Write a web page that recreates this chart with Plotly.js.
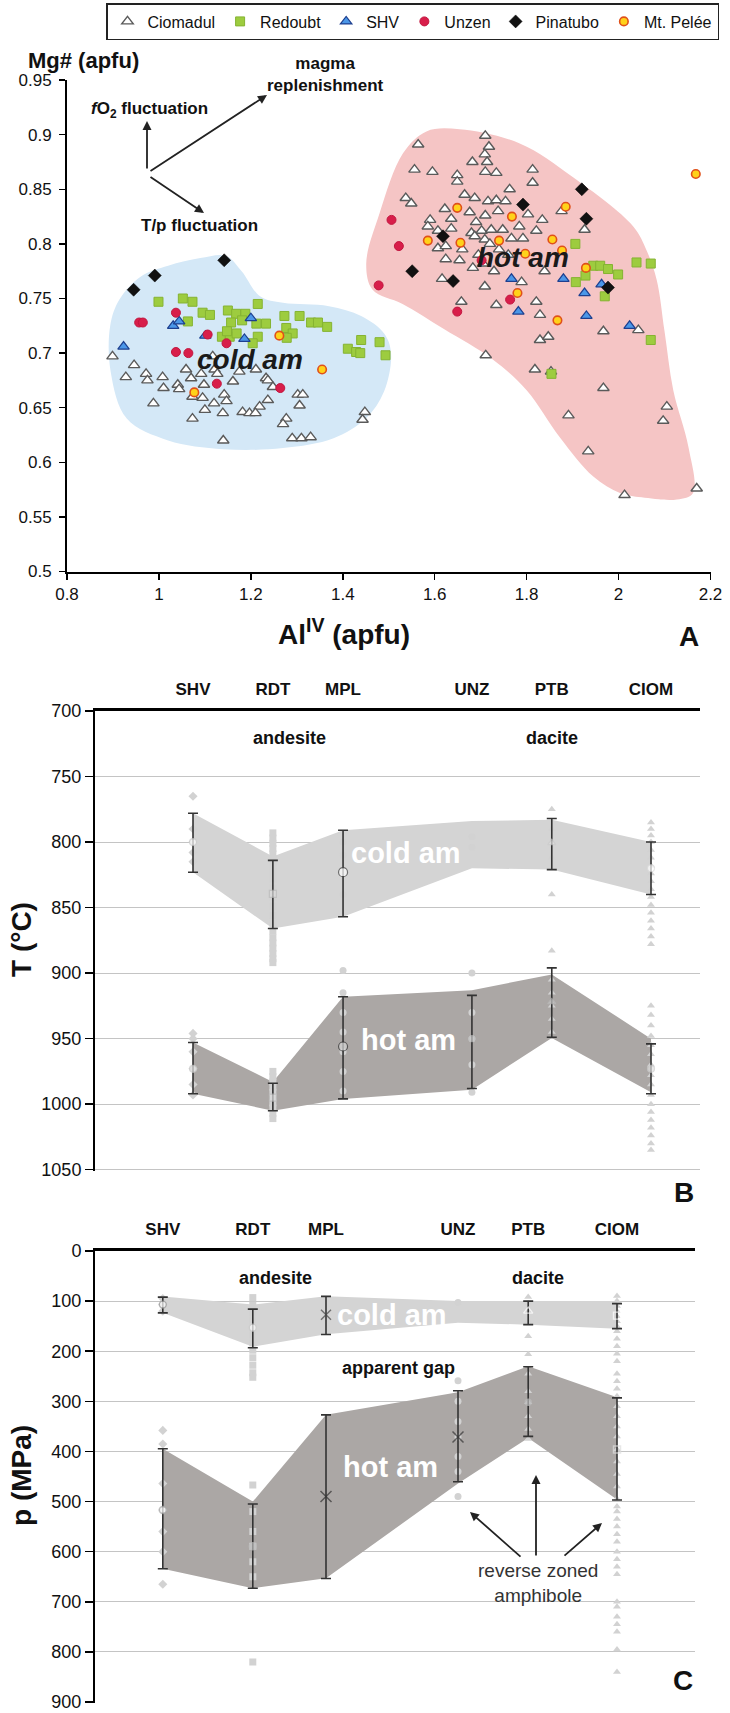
<!DOCTYPE html>
<html><head><meta charset="utf-8">
<script src="https://cdn.plot.ly/plotly-3.0.1.min.js"></script>
<style>html,body{margin:0;padding:0;background:#fff;}#chart{width:730px;height:1713px;}</style>
</head><body><div id="chart"></div>
<script>
// ================= Panel A data (AlIV vs Mg#) =================
const ciomAl = [0.899,0.946,0.928,0.972,1.008,0.975,1.010,0.988,1.041,1.044,1.059,1.070,1.092,1.098,1.117,1.121,1.127,1.161,1.175,1.211,1.233,1.237,1.248,1.073,1.095,1.120,1.142,1.147,1.073,1.139,1.182,1.197,1.219,1.237,1.277,1.302,1.313,1.306,1.448,1.443,1.140,1.270,1.290,1.310,1.330,1.210,1.100,
 1.564,1.710,1.718,1.709,1.682,1.714,1.556,1.595,1.649,1.710,1.734,1.813,1.649,1.813,1.763,1.537,1.549,1.665,1.687,1.716,1.734,1.754,1.622,1.676,1.738,1.803,1.834,1.876,1.590,1.636,1.585,1.607,1.636,1.680,1.702,1.723,1.748,1.784,1.821,1.926,1.607,1.624,1.687,1.709,1.767,1.792,1.624,1.654,1.683,1.705,1.729,1.839,1.616,1.709,1.789,1.658,1.734,1.821,1.829,1.829,1.847,1.967,2.043,1.711,1.818,1.853,1.967,1.891,1.934,2.013,2.105,2.097,2.170,1.660,1.695,1.740,1.760,1.720,1.690,1.710];
const ciomMg = [0.697,0.689,0.678,0.681,0.678,0.675,0.668,0.654,0.671,0.667,0.685,0.677,0.681,0.671,0.697,0.685,0.681,0.674,0.683,0.685,0.677,0.675,0.669,0.660,0.659,0.654,0.662,0.656,0.640,0.645,0.646,0.645,0.651,0.657,0.640,0.662,0.662,0.652,0.646,0.639,0.620,0.635,0.622,0.622,0.623,0.645,0.648,
 0.891,0.899,0.889,0.882,0.875,0.875,0.868,0.866,0.863,0.866,0.865,0.868,0.857,0.856,0.850,0.842,0.837,0.845,0.842,0.839,0.840,0.839,0.832,0.829,0.830,0.827,0.822,0.830,0.822,0.823,0.816,0.812,0.814,0.810,0.812,0.813,0.813,0.816,0.812,0.813,0.796,0.798,0.807,0.804,0.805,0.805,0.786,0.785,0.778,0.782,0.775,0.775,0.768,0.761,0.765,0.747,0.744,0.747,0.735,0.712,0.715,0.720,0.721,0.698,0.685,0.683,0.668,0.643,0.610,0.570,0.651,0.638,0.576,0.795,0.790,0.795,0.790,0.800,0.820,0.826];
const redAl = [0.999,1.052,1.073,1.063,1.095,1.111,1.150,1.168,1.188,1.215,1.157,1.212,1.233,1.137,1.154,1.169,1.215,1.204,1.273,1.306,1.277,1.291,1.278,1.331,1.346,1.366,1.411,1.429,1.438,1.440,1.480,1.493,1.181,1.148,1.906,1.945,1.960,1.977,1.999,1.928,1.907,2.039,2.070,1.970,2.070,1.854];
const redMg = [0.747,0.750,0.747,0.729,0.737,0.735,0.739,0.736,0.736,0.745,0.728,0.727,0.727,0.715,0.715,0.718,0.715,0.709,0.734,0.734,0.723,0.718,0.714,0.728,0.728,0.724,0.704,0.701,0.700,0.712,0.710,0.698,0.730,0.720,0.800,0.780,0.780,0.777,0.772,0.771,0.765,0.783,0.782,0.752,0.712,0.681];
const shvAl = [0.923,1.031,1.044,1.101,1.186,1.200,1.767,1.880,1.926,1.963,1.782,1.930,2.024];
const shvMg = [0.706,0.725,0.729,0.716,0.713,0.732,0.768,0.768,0.755,0.763,0.738,0.734,0.725];
const unzAl = [0.957,0.965,1.037,1.037,1.064,1.106,1.147,1.126,1.264,1.506,1.522,1.478,1.649,1.764,1.702];
const unzMg = [0.728,0.728,0.737,0.701,0.700,0.717,0.709,0.672,0.668,0.822,0.798,0.762,0.738,0.749,0.785];
const pinAl = [0.945,0.991,1.142,1.920,1.792,1.930,1.618,1.551,1.640,1.977];
const pinMg = [0.758,0.771,0.785,0.850,0.836,0.823,0.807,0.775,0.766,0.760];
const pelAl = [1.262,1.355,1.077,1.649,1.768,1.885,1.585,1.656,1.740,1.856,1.877,1.797,1.929,1.780,1.867,2.168];
const pelMg = [0.716,0.685,0.664,0.833,0.825,0.834,0.803,0.801,0.803,0.804,0.794,0.791,0.778,0.755,0.730,0.864];
// field outlines (cold am / hot am)
const coldFieldAl = [0.894,0.914,0.96,1.02,1.09,1.146,1.18,1.22,1.27,1.37,1.44,1.49,1.505,1.49,1.45,1.38,1.27,1.14,1.02,0.93,0.895,0.894];
const coldFieldMg = [0.725,0.749,0.77,0.78,0.787,0.789,0.775,0.752,0.746,0.743,0.734,0.718,0.70,0.665,0.64,0.622,0.613,0.612,0.62,0.64,0.683,0.725];
const hotFieldAl = [1.451,1.48,1.531,1.582,1.654,1.785,1.901,2.032,2.061,2.083,2.10,2.119,2.152,2.162,2.127,2.05,2.003,1.945,1.872,1.8,1.727,1.62,1.53,1.465,1.451];
const hotFieldMg = [0.782,0.828,0.883,0.903,0.905,0.892,0.861,0.816,0.794,0.767,0.72,0.666,0.614,0.572,0.566,0.568,0.572,0.587,0.623,0.666,0.694,0.722,0.745,0.758,0.782];
const aTickVals = [0.5,0.55,0.6,0.65,0.7,0.75,0.8,0.85,0.9,0.95];
const aTickText = ['0.5','0.55','0.6','0.65','0.7','0.75','0.8','0.85','0.9','0.95'];
const aXTickVals = [0.8,1,1.2,1.4,1.6,1.8,2,2.2];
const aXTickText = ['0.8','1','1.2','1.4','1.6','1.8','2','2.2'];

// ================= Panels B & C data =================
const cats = ['SHV','RDT','MPL','UNZ','PTB','CIOM'];
const catPosB = [16.2, 29.4, 41.0, 62.3, 75.5, 91.9];
const catPosC = [11.3, 26.3, 38.5, 60.5, 72.2, 87.0];
// B: temperature (°C)
const coldMeanB = [800, 839.5, 823, null, 800.6, 820];
const coldLoB   = [778, 814, 791, null, 782, 800];
const coldHiB   = [823, 866, 857, null, 821, 840];
const coldTopB  = [778, 811, 791, 784, 783, 800];
const coldBotB  = [823, 866, 857, 820, 821, 840];
const hotMeanB  = [973, 995, 956, 950, 922, 973];
const hotLoB    = [953, 984, 918, 917, 896, 954];
const hotHiB    = [992, 1005, 996, 988, 949, 992];
const hotTopB   = [953, 983, 918, 913, 901, 950];
const hotBotB   = [992, 1005, 996, 989, 949.5, 991];
const grayB_SHV  = [765, 790, 800, 808, 815, 946, 950, 960, 973, 985, 993];
const grayB_RDT  = [793, 797, 801, 805, 809, 813, 818, 823, 828, 835, 842, 849, 856, 862, 868, 873, 877, 881, 885, 889, 892, 975, 979, 983, 987, 991, 995, 999, 1003, 1007, 1011];
const grayB_MPL  = [800, 810, 823, 840, 898, 915, 930, 945, 960, 975, 990];
const grayB_UNZ  = [796, 804, 900, 930, 950, 970, 991];
const grayB_PTB  = [775, 790, 800, 812, 840, 883, 905, 915, 925, 935, 945];
const grayB_CIOM = [785, 790, 795, 800, 806, 812, 818, 824, 830, 836, 842, 848, 854, 860, 866, 872, 878, 925, 932, 940, 948, 955, 962, 970, 978, 985, 993, 1000, 1006, 1012, 1018, 1024, 1030, 1035];
const bTickVals = [700, 750, 800, 850, 900, 950, 1000, 1050];
// C: pressure (MPa)
const coldMeanC = [107, 153, 127, null, 120, 129];
const coldLoC   = [92, 116, 90.5, null, 100, 105];
const coldHiC   = [123.5, 193, 166.5, null, 147, 155];
const coldTopC  = [91, 107, 90.5, 100, 100, 100];
const coldBotC  = [123, 191, 166, 143, 147, 155];
const hotMeanC  = [517, 589, 490, 371, 302, 396];
const hotLoC    = [394.5, 505, 327, 279, 231, 293];
const hotHiC    = [634, 673, 653.5, 460.5, 370, 497];
const hotTopC   = [394.5, 500, 327, 282, 230, 292];
const hotBotC   = [634, 673, 653, 464, 373, 496];
const grayC_SHV  = [95, 107, 120, 358, 385, 464, 517, 560, 600, 665];
const grayC_RDT  = [93, 108, 123, 138, 153, 168, 183, 198, 213, 228, 243, 252, 467, 520, 560, 589, 620, 650, 820];
const grayC_MPL  = [95, 110, 127, 145, 160, 307, 360, 400, 420, 440, 490, 520, 560, 600, 640];
const grayC_UNZ  = [103, 259, 300, 340, 371, 410, 440, 490];
const grayC_PTB  = [92, 105, 120, 140, 170, 206, 245, 280, 302, 330, 355, 375];
const grayC_CIOM = [90, 100, 110, 120, 130, 140, 150, 160, 175, 190, 205, 220, 245, 260, 275, 290, 310, 330, 350, 370, 396, 420, 445, 470, 495, 510, 520, 535, 550, 565, 580, 600, 615, 630, 645, 700, 710, 730, 745, 760, 795, 840];
const cTickVals = [0, 100, 200, 300, 400, 500, 600, 700, 800, 900];

// ================= helpers =================
const W = 730, H = 1713;
const F = 'Liberation Sans, Arial, Helvetica, sans-serif';
const px = x => x / W, py = y => 1 - y / H;
const rev = a => a.slice().reverse();

const traces = [];
// ---- Panel A ----
traces.push({x: coldFieldAl, y: coldFieldMg, mode: 'lines', fill: 'toself', fillcolor: '#d4e8f7',
  line: {width: 0, shape: 'spline', smoothing: 1}, hoverinfo: 'skip', showlegend: false, xaxis: 'x', yaxis: 'y'});
traces.push({x: hotFieldAl, y: hotFieldMg, mode: 'lines', fill: 'toself', fillcolor: '#f5c5c5',
  line: {width: 0, shape: 'spline', smoothing: 1}, hoverinfo: 'skip', showlegend: false, xaxis: 'x', yaxis: 'y'});
const series = [
  {name: 'Ciomadul', x: ciomAl, y: ciomMg, marker: {symbol: 'triangle-up', size: 10, color: '#ffffff', line: {color: '#5a5a5a', width: 1.4}}},
  {name: 'Redoubt', x: redAl, y: redMg, marker: {symbol: 'square', size: 9, color: '#9dcc3f', line: {color: '#85b332', width: 1}}},
  {name: 'SHV', x: shvAl, y: shvMg, marker: {symbol: 'triangle-up', size: 10, color: '#4b97e8', line: {color: '#1d3f8f', width: 1.2}}},
  {name: 'Unzen', x: unzAl, y: unzMg, marker: {symbol: 'circle', size: 9, color: '#d81e4a', line: {color: '#c2163f', width: 1}}},
  {name: 'Pinatubo', x: pinAl, y: pinMg, marker: {symbol: 'diamond', size: 10, color: '#111111', line: {color: '#000', width: 0.5}}},
  {name: 'Mt. Pelée', x: pelAl, y: pelMg, marker: {symbol: 'circle', size: 8.5, color: '#ffd21a', line: {color: '#e0501a', width: 1.6}}}
];
series.forEach(s => traces.push(Object.assign({type: 'scatter', mode: 'markers', xaxis: 'x', yaxis: 'y', hoverinfo: 'skip', cliponaxis: false}, s)));

// ---- Panels B & C ----
function bandPanel(pos, xa, ya, grays, graySym, coldTop, coldBot, hotTop, hotBot, coldMean, coldLo, coldHi, hotMean, hotLo, hotHi, coldMk, hotMk) {
  traces.push({x: pos.concat(rev(pos)), y: coldTop.concat(rev(coldBot)), mode: 'lines', fill: 'toself', fillcolor: '#d4d4d4',
    line: {width: 0}, hoverinfo: 'skip', showlegend: false, xaxis: xa, yaxis: ya});
  traces.push({x: pos.concat(rev(pos)), y: hotTop.concat(rev(hotBot)), mode: 'lines', fill: 'toself', fillcolor: '#aba7a5',
    line: {width: 0}, hoverinfo: 'skip', showlegend: false, xaxis: xa, yaxis: ya});
  grays.forEach((g, i) => {
    traces.push({x: g.map(() => pos[i]), y: g, mode: 'markers', xaxis: xa, yaxis: ya, showlegend: false, hoverinfo: 'skip',
      marker: {symbol: graySym[i], size: 7, color: '#d2d2d2', line: {width: 0}}});
  });
  const mk = (mean, lo, hi, m) => ({x: pos, y: mean, mode: 'markers', xaxis: xa, yaxis: ya, showlegend: false, hoverinfo: 'skip',
    error_y: {type: 'data', symmetric: false,
      array: mean.map((v, i) => v == null ? null : hi[i] - v),
      arrayminus: mean.map((v, i) => v == null ? null : v - lo[i]),
      color: '#333333', thickness: 1.6, width: 5},
    marker: m});
  traces.push(mk(coldMean, coldLo, coldHi, coldMk));
  traces.push(mk(hotMean, hotLo, hotHi, hotMk));
}
bandPanel(catPosB, 'x2', 'y2', [grayB_SHV, grayB_RDT, grayB_MPL, grayB_UNZ, grayB_PTB, grayB_CIOM],
  ['diamond', 'square', 'circle', 'circle', 'triangle-up', 'triangle-up'],
  coldTopB, coldBotB, hotTopB, hotBotB, coldMeanB, coldLoB, coldHiB, hotMeanB, hotLoB, hotHiB,
  {symbol: ['circle', 'square', 'circle', 'circle', 'triangle-up', 'circle'], size: [7, 7, 9, 6, 7, 7],
   color: ['#ffffff', '#dcdcdc', '#ffffff', '#dddddd', '#e2e2e2', '#ffffff'],
   line: {color: ['#cccccc', '#bbbbbb', '#444444', '#cccccc', '#cccccc', '#dddddd'], width: 1.2}},
  {symbol: ['circle', 'square', 'circle', 'circle', 'triangle-up', 'circle'], size: [7, 7, 9, 6, 7, 7],
   color: ['#e6e6e6', '#dcdcdc', '#d8d8d8', '#c8c8c8', '#c8c8c8', '#e0e0e0'],
   line: {color: ['#cccccc', '#bbbbbb', '#333333', '#bbbbbb', '#bbbbbb', '#cccccc'], width: 1.2}});
bandPanel(catPosC, 'x3', 'y3', [grayC_SHV, grayC_RDT, grayC_MPL, grayC_UNZ, grayC_PTB, grayC_CIOM],
  ['diamond', 'square', 'line-ew', 'circle', 'triangle-up', 'triangle-up'],
  coldTopC, coldBotC, hotTopC, hotBotC, coldMeanC, coldLoC, coldHiC, hotMeanC, hotLoC, hotHiC,
  {symbol: ['circle', 'circle', 'x-thin-open', 'circle', 'triangle-up-open', 'square-open'], size: [7, 7, 10, 6, 8, 7],
   color: ['#ffffff', '#ffffff', '#444444', '#dddddd', '#ffffff', '#ffffff'],
   line: {color: ['#999999', '#cccccc', '#444444', '#cccccc', '#bbbbbb', '#bbbbbb'], width: 1.4}},
  {symbol: ['circle', 'circle', 'x-thin-open', 'x-thin-open', 'circle', 'square-open'], size: [7, 7, 11, 11, 6, 7],
   color: ['#ffffff', '#bbbbbb', '#333333', '#333333', '#bbbbbb', '#dddddd'],
   line: {color: ['#aaaaaa', '#bbbbbb', '#333333', '#333333', '#bbbbbb', '#cccccc'], width: 1.5}});

// ================= annotations =================
function T(text, x, y, size, o) {
  return Object.assign({xref: 'paper', yref: 'paper', x: px(x), y: py(y), text: text, showarrow: false,
    xanchor: 'center', yanchor: 'middle', font: {family: F, size: size, color: '#111111'}}, o || {});
}
function AR(hx, hy, tx, ty) {
  return {xref: 'paper', yref: 'paper', x: px(hx), y: py(hy), ax: tx - hx, ay: ty - hy, axref: 'pixel', ayref: 'pixel',
    text: '', showarrow: true, arrowhead: 2, arrowsize: 1, arrowwidth: 1.8, arrowcolor: '#222222'};
}
const annotations = [
  // Panel A
  T('<b>Mg# (apfu)</b>', 26, 60, 22, {xanchor: 'left'}),
  T('<b>magma<br>replenishment</b>', 325, 74, 17),
  T('<b><i>f</i>O<sub>2</sub> fluctuation</b>', 149, 110, 17),
  T('<b>T/p fluctuation</b>', 199, 225, 17),
  AR(147, 121, 147, 170), AR(267, 95, 149, 172), AR(204, 213, 149, 176),
  T('<b><i>cold am</i></b>', 250, 360, 28, {font: {family: F, size: 28, color: '#1a1a1a'}}),
  T('<b><i>hot am</i></b>', 523, 257, 28, {font: {family: F, size: 28, color: '#1a1a1a'}}),
  T('<b>Al<sup>IV</sup> (apfu)</b>', 344, 632, 28),
  T('<b>A</b>', 689, 636, 28),
  // Panel B
  T('<b>andesite</b>', 289, 738, 18),
  T('<b>dacite</b>', 552, 738, 18),
  T('<b>cold am</b>', 406, 853, 29, {font: {family: F, size: 29, color: '#ffffff'}}),
  T('<b>hot am</b>', 408, 1040, 29, {font: {family: F, size: 29, color: '#ffffff'}}),
  T('<b>T (°C)</b>', 21, 940, 28, {textangle: -90}),
  T('<b>B</b>', 684, 1192, 28),
  // Panel C
  T('<b>andesite</b>', 275, 1278, 18),
  T('<b>dacite</b>', 538, 1278, 18),
  T('<b>apparent gap</b>', 398, 1368, 18),
  T('<b>cold am</b>', 392, 1315, 29, {font: {family: F, size: 29, color: '#ffffff'}}),
  T('<b>hot am</b>', 390, 1467, 29, {font: {family: F, size: 29, color: '#ffffff'}}),
  T('reverse zoned<br>amphibole', 538, 1583, 19, {font: {family: F, size: 19, color: '#333333'}}),
  AR(470, 1512, 522, 1558), AR(536, 1475, 536, 1557), AR(602, 1523, 563, 1557),
  T('<b>p (MPa)</b>', 21, 1476, 28, {textangle: -90}),
  T('<b>C</b>', 683, 1680, 28)
];

const axBase = {showline: true, linecolor: '#000', zeroline: false, showgrid: false, ticks: 'outside', tickcolor: '#000', tickwidth: 1.5, ticklabeloverflow: 'allow'};
const layout = {
  width: W, height: H, margin: {l: 0, r: 0, t: 0, b: 0}, paper_bgcolor: '#fff', plot_bgcolor: 'rgba(0,0,0,0)',
  font: {family: F, size: 16, color: '#111'},
  showlegend: true,
  legend: {orientation: 'h', x: px(106), y: py(3), xanchor: 'left', yanchor: 'top', bgcolor: '#fff',
    bordercolor: '#222', borderwidth: 1.5, font: {family: F, size: 16, color: '#111'}, traceorder: 'normal'},
  xaxis: Object.assign({}, axBase, {domain: [px(67), px(710.5)], range: [0.8, 2.2], anchor: 'y', linewidth: 2,
    tickvals: aXTickVals, ticktext: aXTickText, ticklen: 6, tickfont: {family: F, size: 17, color: '#111'}}),
  yaxis: Object.assign({}, axBase, {domain: [py(571.5), py(80.1)], range: [0.5, 0.95], anchor: 'x', linewidth: 2,
    tickvals: aTickVals, ticktext: aTickText, ticklen: 6, ticklabelstandoff: 4, tickfont: {family: F, size: 17, color: '#111'}}),
  xaxis2: {domain: [px(95), px(700)], range: [0, 100], anchor: 'y2', side: 'top', showline: true, linecolor: '#000', linewidth: 3,
    ticks: '', showgrid: false, zeroline: false, tickvals: catPosB, ticktext: cats.map(c => '<b>' + c + '</b>'),
    ticklabelstandoff: 6, tickfont: {family: F, size: 17, color: '#111'}},
  yaxis2: Object.assign({}, axBase, {domain: [py(1171), py(711)], range: [1051, 700], anchor: 'x2', linewidth: 2,
    tickvals: bTickVals, ticklen: 8, showgrid: true, gridcolor: '#c4c4c4', gridwidth: 1, tickfont: {family: F, size: 18, color: '#111'}}),
  xaxis3: {domain: [px(95), px(695)], range: [0, 100], anchor: 'y3', side: 'top', showline: true, linecolor: '#000', linewidth: 3,
    ticks: '', showgrid: false, zeroline: false, tickvals: catPosC, ticktext: cats.map(c => '<b>' + c + '</b>'),
    ticklabelstandoff: 6, tickfont: {family: F, size: 17, color: '#111'}},
  yaxis3: Object.assign({}, axBase, {domain: [py(1702.5), py(1251)], range: [901, 0], anchor: 'x3', linewidth: 2,
    tickvals: cTickVals, ticklen: 8, showgrid: true, gridcolor: '#c4c4c4', gridwidth: 1, tickfont: {family: F, size: 18, color: '#111'}}),
  annotations: annotations
};
Plotly.newPlot('chart', traces, layout, {displayModeBar: false, staticPlot: true});
</script>
</body></html>
